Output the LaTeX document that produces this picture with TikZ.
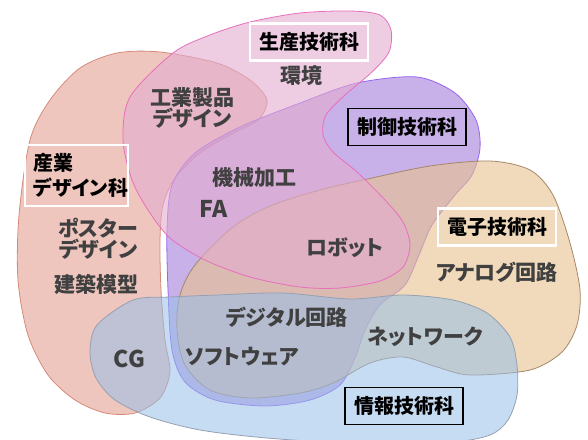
\documentclass[tikz,border=0pt]{standalone}
\usepackage{fontspec}
\setmainfont{Noto Sans CJK JP}[RawFeature=+palt]
\definecolor{sangyofill}{RGB}{228,160,147}
\definecolor{sangyoline}{RGB}{214,138,120}
\definecolor{seisanfill}{RGB}{227,172,207}
\definecolor{seisanline}{RGB}{232,110,190}
\definecolor{seigyofill}{RGB}{163,123,217}
\definecolor{seigyoline}{RGB}{150,100,240}
\definecolor{denshifill}{RGB}{232,193,142}
\definecolor{denshiline}{RGB}{165,135,105}
\definecolor{johofill}{RGB}{151,191,231}
\definecolor{joholine}{RGB}{150,160,178}
\definecolor{wordgray}{RGB}{64,64,64}
\tikzset{%
  blob/.style={line width=0.8pt,fill opacity=0.6},
  sangyo/.style={blob,draw=sangyoline,fill=sangyofill},
  seisan/.style={blob,draw=seisanline,fill=seisanfill},
  seigyo/.style={blob,draw=seigyoline,fill=seigyofill},
  denshi/.style={blob,draw=denshiline,fill=denshifill},
  joho/.style={blob,draw=joholine,fill=johofill,fill opacity=0.55},
  word/.style={font=\fontsize{21}{21}\selectfont\bfseries,text=wordgray,align=center,inner sep=0},
  latin/.style={word,font=\fontsize{23}{23}\selectfont\bfseries},
  dept/.style={font=\fontsize{20}{25}\selectfont\bfseries,text=black,minimum width=118pt,minimum height=37pt,inner sep=0},
  deptw/.style={dept,draw=white,line width=2.2pt},
  deptb/.style={dept,draw=black,line width=1.8pt}
}
\begin{document}
\begin{tikzpicture}[x=1pt,y=-1pt]
  \useasboundingbox (0,0) rectangle (588,439);
  % 産業デザイン科
  \draw[sangyo] plot[smooth cycle] coordinates {(117,53) (160,52) (217,63) (250,80) (267,100) (258,120)
    (230,135) (200,153) (175,178) (163,205) (160,240) (161,290) (165,340) (170,372) (160,398)
    (135,413) (105,413) (75,400) (48,375) (28,335) (18,280) (19,215) (30,140) (50,100) (80,68)};
  % 制御技術科
  \draw[seigyo] plot[smooth cycle] coordinates {(167,230) (172,185) (195,153) (240,127) (300,103)
    (357,83) (417,77) (455,93) (476,120) (480,148) (472,175) (455,195) (432,225) (419,255)
    (405,285) (380,305) (365,330) (355,358) (340,385) (310,400) (265,406) (215,400) (185,382)
    (172,350) (168,290)};
  % 電子技術科
  \draw[denshi] plot[smooth cycle] coordinates {(363,180) (430,166) (490,161) (530,170) (553,195)
    (570,243) (580,290) (577,325) (562,352) (530,370) (470,375) (437,367) (403,357) (370,363)
    (333,383) (300,393) (250,398) (210,390) (185,365) (177,330) (180,295) (195,265) (233,227)
    (270,206) (320,190)};
  % 生産技術科
  \draw[seisan] plot[smooth cycle] coordinates {(173,53) (210,35) (250,22) (300,13) (350,11)
    (380,15) (391,30) (389,52) (372,72) (345,95) (326,115) (323,135) (333,152) (357,172)
    (385,200) (403,222) (410,245) (403,267) (380,281) (340,288) (300,287) (250,277) (205,260)
    (170,238) (148,210) (132,180) (123,140) (130,97)};
  % 情報技術科
  \draw[joho] plot[smooth cycle] coordinates {(133,300) (170,297) (217,295) (283,293) (350,299)
    (403,295) (453,300) (487,313) (510,337) (517,365) (517,395) (508,420) (490,435) (450,442)
    (350,443) (267,438) (200,430) (150,417) (115,400) (96,378) (90,352) (97,325)};
  % labels
  \path
    (309,42) node[deptw] (seisan) {生産技術科}
    (407,127) node[deptb] (seigyo) {制御技術科}
    (497,227) node[deptw] (denshi) {電子技術科}
    (404,406) node[deptb] (joho) {情報技術科}
    (24,175.5) node[deptw,anchor=west,minimum width=0pt,minimum height=61pt,
      text width=87pt,align=left,inner xsep=8pt] (sangyo) {産業\\デザイン科};
  \path
    (301,76) node[word] (kankyo) {環境}
    (192,107.5) node[word] (kogyo) {工業製品\\デザイン}
    (254,178) node[word] (kikai) {機械加工}
    (214,208.5) node[latin] (fa) {FA}
    (345,248) node[word] (robot) {ロボット}
    (497,272) node[word] (analog) {アナログ回路}
    (98,238.5) node[word] (poster) {ポスター\\デザイン}
    (96,284) node[word] (kenchiku) {建築模型}
    (287,317) node[word] (digital) {デジタル回路}
    (242,357) node[word] (soft) {ソフトウェア}
    (129.5,358.5) node[latin] (cg) {CG}
    (425,337) node[word] (network) {ネットワーク};
\end{tikzpicture}
\end{document}
